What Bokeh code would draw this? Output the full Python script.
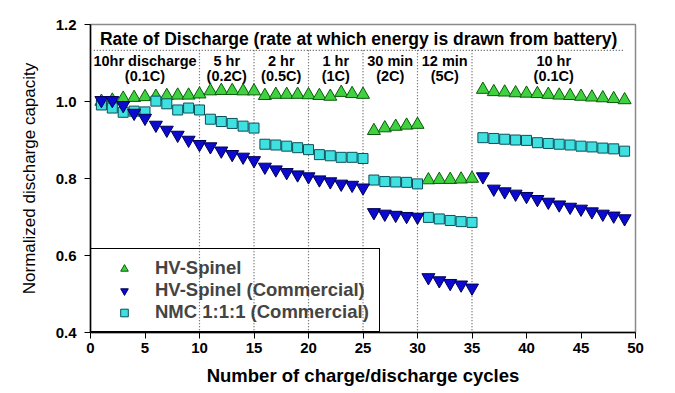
from bokeh.plotting import figure
from bokeh.models import ColumnDataSource, Legend, LegendItem, FixedTicker, NumeralTickFormatter
from bokeh.core.properties import value
from bokeh.embed import file_html
from bokeh.resources import INLINE

cycles = list(range(1, 50))
hv_spinel = [1.000, 1.003, 1.008, 1.010, 1.012, 1.013, 1.015, 1.016, 1.016, 1.019,
             1.027, 1.028, 1.028, 1.027, 1.027,
             1.015, 1.018, 1.018, 1.018, 1.017, 1.015, 1.013, 1.023, 1.020, 1.018,
             0.924, 0.931, 0.935, 0.938, 0.940,
             0.796, 0.797, 0.797, 0.798, 0.800,
             1.031, 1.025, 1.024, 1.022, 1.021, 1.020, 1.018, 1.016, 1.015, 1.013,
             1.011, 1.009, 1.007, 1.004]
hv_commercial = [1.003, 1.003, 0.990, 0.970, 0.957, 0.939, 0.926, 0.913, 0.900, 0.889,
                 0.883, 0.872, 0.863, 0.856, 0.847,
                 0.830, 0.823, 0.816, 0.810, 0.805, 0.797, 0.792, 0.786, 0.783, 0.776,
                 0.712, 0.708, 0.705, 0.702, 0.700,
                 0.543, 0.535, 0.528, 0.524, 0.516,
                 0.805, 0.773, 0.766, 0.760, 0.754, 0.746, 0.739, 0.732, 0.726, 0.721,
                 0.714, 0.708, 0.703, 0.696]
nmc_commercial = [0.991, 0.983, 0.972, 0.975, 0.973, 1.001, 0.994, 0.978, 0.983, 0.978,
                  0.954, 0.948, 0.943, 0.936, 0.931,
                  0.889, 0.887, 0.884, 0.880, 0.875, 0.862, 0.859, 0.855, 0.855, 0.852,
                  0.796, 0.792, 0.791, 0.790, 0.786,
                  0.699, 0.695, 0.691, 0.688, 0.686,
                  0.906, 0.904, 0.902, 0.900, 0.899, 0.893, 0.891, 0.889, 0.887, 0.884,
                  0.882, 0.879, 0.877, 0.871]

region_bounds = [0, 10, 15, 20, 25, 30, 35, 50]
region_line1 = ["10hr discharge", "5 hr", "2 hr", "1 hr", "30 min", "12 min", "10 hr"]
region_line2 = ["(0.1C)", "(0.2C)", "(0.5C)", "(1C)", "(2C)", "(5C)", "(0.1C)"]
title_text = "Rate of Discharge (rate at which energy is drawn from battery)"
x_ticks = [0, 5, 10, 15, 20, 25, 30, 35, 40, 45, 50]
y_ticks = [0.4, 0.6, 0.8, 1.0, 1.2]

FONT = "Liberation Sans"

p = figure(width=670, height=388, x_range=(0, 50), y_range=(0.4, 1.2),
           output_backend="svg", toolbar_location=None,
           min_border_left=90, min_border_right=35, min_border_top=24, min_border_bottom=56)
p.xgrid.visible = False
p.ygrid.visible = False
p.outline_line_color = "#8a8a8a"
p.outline_line_width = 1.5

for ax in (p.xaxis[0], p.yaxis[0]):
    ax.axis_line_color = "black"
    ax.axis_line_width = 1.5
    ax.major_tick_line_color = "black"
    ax.major_tick_in = 0
    ax.major_tick_out = 6
    ax.minor_tick_line_color = None
    ax.major_label_text_font = FONT
    ax.major_label_text_font_style = "bold"
    ax.major_label_text_font_size = "15px"
    ax.major_label_text_color = "black"

p.xaxis.ticker = FixedTicker(ticks=x_ticks)
p.yaxis.ticker = FixedTicker(ticks=y_ticks)
p.yaxis.formatter = NumeralTickFormatter(format="0.0")
p.xaxis.major_label_standoff = 4
p.yaxis.major_label_standoff = 8

p.xaxis.axis_label = "Number of charge/discharge cycles"
p.xaxis.axis_label_text_font = FONT
p.xaxis.axis_label_text_font_style = "bold"
p.xaxis.axis_label_text_font_size = "18.5px"
p.xaxis.axis_label_standoff = 9
p.xaxis.axis_label_text_color = "black"

p.yaxis.axis_label = "Normalized discharge capacity"
p.yaxis.axis_label_text_font = FONT
p.yaxis.axis_label_text_font_style = "normal"
p.yaxis.axis_label_text_font_size = "17px"
p.yaxis.axis_label_standoff = 14
p.yaxis.axis_label_text_color = "black"

# header band: dotted separator and region dividers
y_band = 1.133
p.segment(x0=[0.3], y0=[y_band], x1=[49.0], y1=[y_band],
          line_color="#555555", line_dash="1 2", line_width=1.2)
dividers = region_bounds[1:-1]
p.segment(x0=dividers, y0=[y_band] * len(dividers), x1=dividers, y1=[0.4] * len(dividers),
          line_color="#555555", line_dash="1 2", line_width=1.2)

p.text(x=[24.6], y=[1.162], text=[title_text], text_font=value(FONT),
       text_font_style="bold", text_font_size="17.5px", text_align="center",
       text_baseline="middle", text_color="black")
centers = [(a + b) / 2 for a, b in zip(region_bounds[:-1], region_bounds[1:])]
p.text(x=centers, y=[1.105] * len(centers), text=region_line1, text_font=value(FONT),
       text_font_style="bold", text_font_size="14.5px", text_align="center",
       text_baseline="middle", text_color="black")
p.text(x=centers, y=[1.066] * len(centers), text=region_line2, text_font=value(FONT),
       text_font_style="bold", text_font_size="14.5px", text_align="center",
       text_baseline="middle", text_color="black")

src = ColumnDataSource(dict(c=cycles, a=hv_spinel, b=hv_commercial, n=nmc_commercial))
r_green = p.scatter("c", "a", source=src, marker="triangle", size=13,
                    fill_color="#3fd13f", line_color="#0b5a0b", line_width=1)
r_nmc = p.scatter("c", "n", source=src, marker="square", size=10,
                  fill_color="#3fe0e0", line_color="#0b4f5a", line_width=1)
r_blue = p.scatter("c", "b", source=src, marker="inverted_triangle", size=13,
                   fill_color="#0a0ad0", line_color="#000050", line_width=1)

legend = Legend(items=[
    LegendItem(label="HV-Spinel", renderers=[r_green]),
    LegendItem(label="HV-Spinel (Commercial)", renderers=[r_blue]),
    LegendItem(label="NMC 1:1:1 (Commercial)", renderers=[r_nmc]),
], location=(0, 0), margin=0, padding=8, spacing=0,
    glyph_width=50, glyph_height=19, label_height=19, label_width=216, label_standoff=6,
    label_text_font=FONT, label_text_font_style="bold", label_text_font_size="18.5px",
    border_line_color="black", border_line_alpha=1.0, border_line_width=1.5,
    background_fill_alpha=0)
p.add_layout(legend)

open("out.html", "w").write(file_html(p, INLINE))
